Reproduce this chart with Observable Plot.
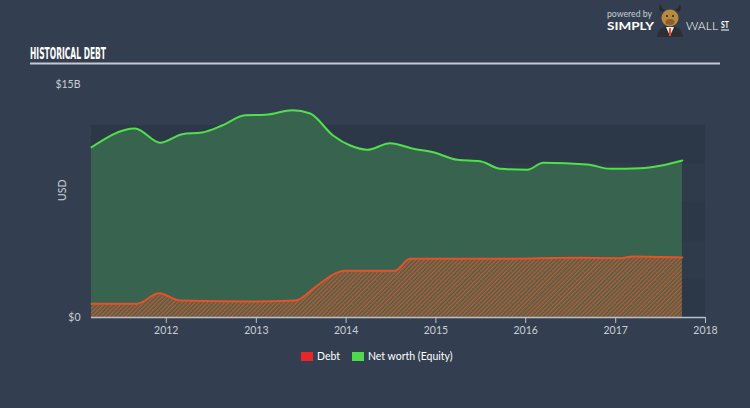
<!DOCTYPE html>
<html>
<head>
<meta charset="utf-8">
<script src="https://cdn.jsdelivr.net/npm/d3@7"></script>
<script src="https://cdn.jsdelivr.net/npm/@observablehq/plot@0.6"></script>
<style>
  html, body { margin: 0; padding: 0; background: #333f50; }
  #wrap { position: relative; width: 750px; height: 408px; overflow: hidden; background: #333f50; font-family: Lato, "Open Sans", sans-serif; }
  #chart { position: absolute; left: 0; top: 0; }
  .abs { position: absolute; white-space: nowrap; }
</style>
</head>
<body>
<div id="wrap">
  <div id="chart"></div>
  <svg class="abs" style="left:0;top:0" width="750" height="80">
    <text x="30" y="58.5" fill="#ffffff" font-family="'Liberation Sans Narrow', 'DejaVu Sans Condensed', sans-serif" font-weight="bold" font-size="16" textLength="76" lengthAdjust="spacingAndGlyphs">HISTORICAL DEBT</text>
    <rect x="30" y="62.5" width="690" height="2" fill="#c5cad1"></rect>
    <text x="607" y="17" fill="#c9ced6" font-family="Lato, sans-serif" font-size="10" textLength="45" lengthAdjust="spacingAndGlyphs">powered by</text>
    <text x="607" y="30" fill="#ffffff" font-family="Lato, sans-serif" font-weight="bold" font-size="12" textLength="47" lengthAdjust="spacingAndGlyphs">SIMPLY</text>
    <path d="M657 37 Q658 26 670 26 Q682 26 683 37 Z" fill="#2b2e33"></path>
    <path d="M666 27 L670 36 L674 27 Z" fill="#f2f2f2"></path>
    <rect x="669" y="28" width="2" height="8" fill="#e2502c"></rect>
    <path d="M661 12 Q658 8 660 4 Q662 9 665 10 Z M679 12 Q682 8 680 4 Q678 9 675 10 Z" fill="#2a2a2a"></path>
    <ellipse cx="670" cy="18" rx="8.5" ry="8.5" fill="#b98a3e"></ellipse>
    <ellipse cx="670" cy="22" rx="4.5" ry="3" fill="#8a5f2a"></ellipse>
    <circle cx="667" cy="16" r="1" fill="#222"></circle>
    <circle cx="673" cy="16" r="1" fill="#222"></circle>
    <text x="686" y="30" fill="#ffffff" font-family="Lato, sans-serif" font-weight="300" font-size="12" textLength="32" lengthAdjust="spacingAndGlyphs">WALL</text>
    <text x="721" y="28" fill="#ffffff" font-family="Lato, sans-serif" font-weight="bold" font-size="9" textLength="8" lengthAdjust="spacingAndGlyphs">ST</text>
    <rect x="721" y="29.5" width="8" height="1" fill="#ffffff"></rect>
  </svg>
  <div class="abs" style="left:301px;top:352px;width:12px;height:9px;background:#e8262a"></div>
  <div class="abs" style="left:317px;top:349px;font-size:10.5px;color:#ffffff;line-height:14px">Debt</div>
  <div class="abs" style="left:352px;top:352px;width:12px;height:9px;background:#4fd94f"></div>
  <div class="abs" style="left:368px;top:349px;font-size:10.5px;color:#ffffff;line-height:14px">Net worth (Equity)</div>
</div>
<script>
// ---- data ----
const netWorthDates = ["2011-03-03","2011-08-27","2011-12-07","2012-03-06","2012-05-26","2012-08-15","2012-11-17","2013-02-08","2013-05-28","2013-08-08","2013-11-09","2014-01-18","2014-03-28","2014-06-29","2014-10-01","2014-12-21","2015-03-29","2015-06-30","2015-09-20","2016-01-08","2016-03-13","2016-09-08","2016-12-10","2017-04-12","2017-07-01","2017-09-29"];
const netWorthValues = [10.96,12.17,11.25,11.80,11.91,12.36,13.02,13.05,13.35,13.13,11.72,11.07,10.80,11.22,10.86,10.64,10.15,10.06,9.57,9.51,9.96,9.85,9.57,9.61,9.77,10.11];

const debtDates = ["2011-03-03","2011-09-04","2011-12-03","2012-02-26","2012-12-15","2013-06-09","2013-08-28","2013-11-30","2013-12-28","2014-07-19","2014-09-18","2015-09-20","2016-08-11","2017-01-20","2017-03-14","2017-09-29"];
const debtValues = [0.88,0.88,1.56,1.09,1.03,1.09,1.95,2.92,3.01,3.01,3.78,3.78,3.84,3.82,3.93,3.86];

const yearTicks = ["2012","2013","2014","2015","2016","2017","2018"];
const yTicks = [0, 15];
const bandEdges = [0, 2.47, 4.94, 7.42, 9.89, 12.36];
const xDomain = ["2011-03-03","2018-01-01"];

// ---- build tables ----
const netWorth = netWorthDates.map((d, i) => ({date: new Date(d), value: netWorthValues[i]}));
const debt = debtDates.map((d, i) => ({date: new Date(d), value: debtValues[i]}));
const bands = bandEdges.slice(0, -1).map((v, i) => ({y1: v, y2: bandEdges[i + 1], k: i % 2}));

const chart = Plot.plot({
  width: 750,
  height: 408,
  marginTop: 84,
  marginBottom: 91,
  marginLeft: 91,
  marginRight: 45,
  style: {background: "transparent", color: "#c9ced6", fontFamily: "Lato, 'Open Sans', sans-serif", fontSize: "10.5px"},
  x: {type: "utc", domain: xDomain.map(d => new Date(d))},
  y: {domain: [0, 15]},
  marks: [
    Plot.rect(bands, {y1: "y1", y2: "y2", fill: "#1f2a38", fillOpacity: d => d.k ? 0.18 : 0.32}),
    Plot.areaY(netWorth, {x: "date", y: "value", fill: "#37634f", curve: "monotone-x"}),
    Plot.areaY(debt, {x: "date", y: "value", fill: "url(#hatch)", curve: "monotone-x"}),
    Plot.lineY(netWorth, {x: "date", y: "value", stroke: "#4fe04a", strokeWidth: 2, curve: "monotone-x"}),
    Plot.lineY(debt, {x: "date", y: "value", stroke: "#e5512b", strokeWidth: 2, curve: "monotone-x"}),
    Plot.ruleY([0], {stroke: "#b9c0c9", strokeWidth: 1.5}),
    Plot.axisX({ticks: yearTicks.map(y => new Date(y + "-01-01")), tickFormat: d3.utcFormat("%Y"), tickSize: 6, tickPadding: 3, stroke: "#b9c0c9", label: null}),
    Plot.axisY({ticks: yTicks, tickFormat: d => d === 0 ? "$0" : "$" + d + "B", tickSize: 0, tickPadding: 11, label: null}),
    Plot.text(["USD"], {frameAnchor: "left", dx: -29, rotate: -90, fill: "#c9ced6", fontSize: 10.5})
  ]
});

// hatch pattern for the debt area
const svg = d3.select(chart);
const defs = svg.insert("defs", ":first-child");
const pat = defs.append("pattern")
  .attr("id", "hatch").attr("patternUnits", "userSpaceOnUse")
  .attr("width", 3).attr("height", 3).attr("patternTransform", "rotate(45)");
pat.append("rect").attr("width", 3).attr("height", 3).attr("fill", "#3c6650");
pat.append("rect").attr("width", 1.4).attr("height", 3).attr("fill", "#c9552f");

document.getElementById("chart").appendChild(chart);
</script>
</body>
</html>
